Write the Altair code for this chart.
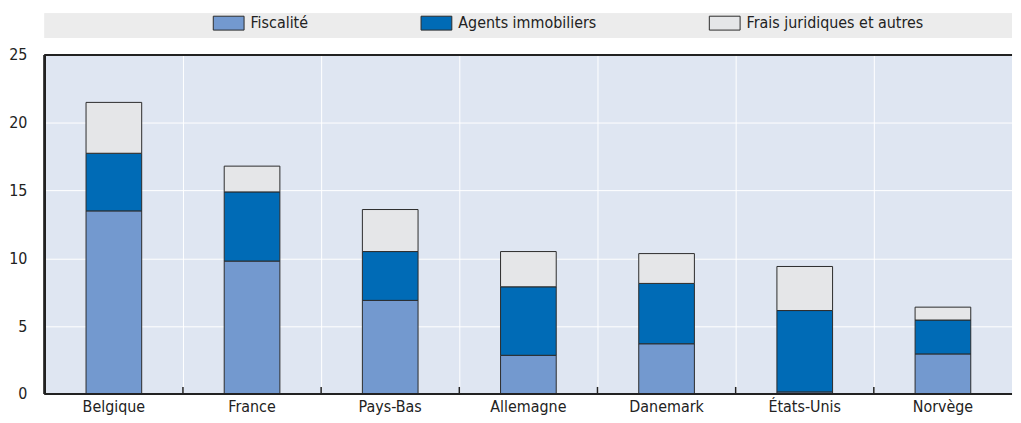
import altair as alt
import pandas as pd

countries = ["Belgique", "France", "Pays-Bas", "Allemagne", "Danemark", "États-Unis", "Norvège"]
series = ["Fiscalité", "Agents immobiliers", "Frais juridiques et autres"]
fiscalite = [13.5, 9.8, 6.9, 2.85, 3.7, 0.15, 2.95]
agents = [4.25, 5.1, 3.6, 5.05, 4.45, 6.0, 2.5]
frais = [3.75, 1.9, 3.1, 2.6, 2.2, 3.25, 0.95]
colors = ["#7399cf", "#006bb6", "#e5e6e8"]
y_ticks = [0, 5, 10, 15, 20, 25]

rows = []
for i, c in enumerate(countries):
    for k, (s, vals) in enumerate(zip(series, [fiscalite, agents, frais])):
        rows.append({"Pays": c, "Série": s, "Valeur": vals[i], "ordre": k})
df = pd.DataFrame(rows)
cdf = pd.DataFrame({"Pays": countries})

FONT = "Liberation Sans Narrow, Arial Narrow, DejaVu Sans Condensed, sans-serif"
W, H = 973, 341

xscale = alt.Scale(domain=countries, paddingInner=0, paddingOuter=0)

bars = alt.Chart(df).mark_bar(size=56, stroke="#2b2b2b", strokeWidth=1).encode(
    x=alt.X("Pays:N", sort=countries, scale=xscale,
            axis=alt.Axis(title=None, labelAngle=0, ticks=False, domain=False,
                          grid=True, gridColor="white", gridWidth=1, bandPosition=0,
                          labelFont=FONT, labelFontSize=16, labelColor="#222",
                          labelPadding=5)),
    y=alt.Y("Valeur:Q", stack="zero",
            scale=alt.Scale(domain=[0, 25], nice=False),
            axis=alt.Axis(title=None, values=y_ticks, ticks=False, domain=False,
                          grid=True, gridColor="white", gridWidth=1,
                          labelFont=FONT, labelFontSize=16, labelColor="#222",
                          labelPadding=18)),
    color=alt.Color("Série:N", scale=alt.Scale(domain=series, range=colors),
                    legend=alt.Legend(title=None, orient="none", direction="horizontal",
                                      legendX=169, legendY=-40, padding=0,
                                      symbolType="M-1,-0.93H3.13V0.93H-1Z", symbolSize=225,
                                      symbolStrokeColor="#2b2b2b", symbolStrokeWidth=1,
                                      labelFont=FONT, labelFontSize=16, labelColor="#222",
                                      labelOffset=22, columnPadding=111, labelLimit=0)),
    order=alt.Order("ordre:Q", sort="ascending"),
)

legend_bg = alt.Chart(cdf).mark_rect(color="#ececec").encode(
    x=alt.value(0), x2=alt.value(W), y=alt.value(-42), y2=alt.value(-17)
)

frame = alt.Chart(cdf).mark_rule(color="#222", strokeWidth=2).encode(
    x=alt.value(0), x2=alt.value(W), y=alt.value(0)
)
frame_b = alt.Chart(cdf).mark_rule(color="#222", strokeWidth=2).encode(
    x=alt.value(0), x2=alt.value(W), y=alt.value(H)
)
frame_l = alt.Chart(cdf).mark_rule(color="#222", strokeWidth=2).encode(
    x=alt.value(0), y=alt.value(0), y2=alt.value(H)
)
ticks = alt.Chart(cdf).mark_rule(color="#222", strokeWidth=1.5).encode(
    x=alt.X("Pays:N", sort=countries, scale=xscale, bandPosition=0),
    y=alt.value(H), y2=alt.value(H - 7)
)

chart = alt.layer(legend_bg, bars, ticks, frame, frame_b, frame_l).properties(
    width=W, height=H,
    padding={"left": 0, "top": 4, "right": 0, "bottom": 4},
).configure_view(
    fill="#dfe6f2", stroke=None
)

chart.save("out.html", embed_options={"renderer": "svg", "actions": False})
